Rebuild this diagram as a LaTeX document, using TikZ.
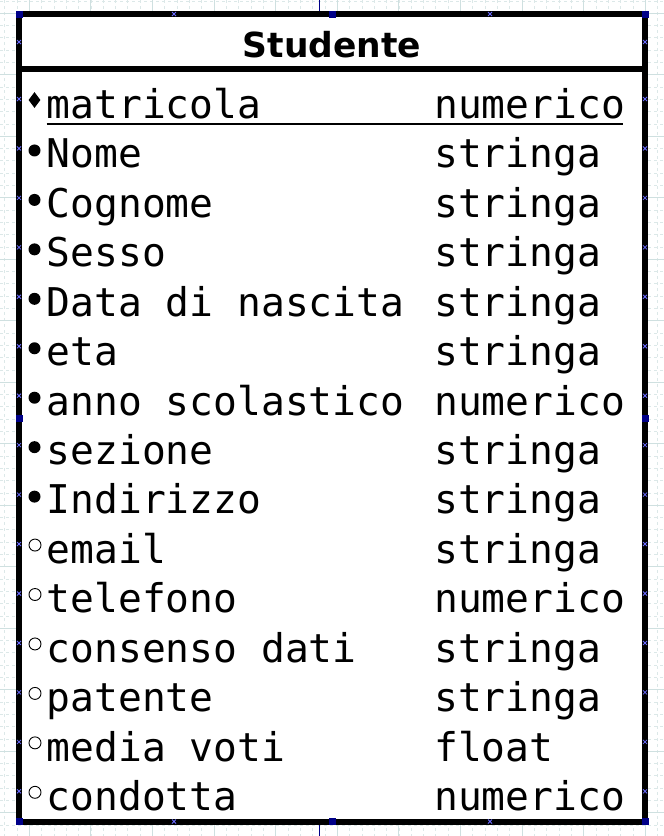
\documentclass[tikz,border=0pt]{standalone}
\usepackage{fontspec}
\usetikzlibrary{shapes.geometric}
\newfontfamily\attrmono{DejaVu Sans Mono}
\newfontfamily\headsans{DejaVu Sans}
\definecolor{gridminorc}{HTML}{DCE8E8}
\definecolor{gridmajorc}{HTML}{CFE0E0}
\definecolor{handleblue}{HTML}{000088}
\definecolor{markblue}{HTML}{6A6AFF}
\tikzset{
  gridminor/.style={draw=gridminorc, line width=0.8pt, dash pattern=on 3pt off 3pt},
  gridmajor/.style={draw=gridmajorc, line width=1pt},
  entity/.style={draw=black, line width=6pt, fill=white, inner sep=0pt,
    minimum width=626pt, minimum height=807.5pt},
  divider/.style={draw=black, line width=6pt},
  keyline/.style={draw=black, line width=2.5pt},
  hdr/.style={font={\headsans\bfseries\fontsize{34.5}{40}\selectfont}, anchor=base, inner sep=0pt},
  attr/.style={font={\attrmono\fontsize{39.6}{48}\selectfont}, anchor=base west, inner sep=0pt},
  keybullet/.style={diamond, fill=black, inner sep=0pt, minimum width=12pt, minimum height=16pt},
  reqbullet/.style={circle, fill=black, inner sep=0pt, minimum size=12pt},
  optbullet/.style={circle, draw=black, fill=white, line width=0.9pt, inner sep=0pt, minimum size=12pt},
  handle/.style={rectangle, fill=handleblue, inner sep=0pt, minimum size=7pt},
  guide/.style={draw=handleblue, line width=1.2pt},
  xmark/.style={draw=markblue, line width=0.8pt}
}
\newcommand{\cpmark}[2]{\draw[xmark] (#1-2,#2-2) -- (#1+2,#2+2) (#1-2,#2+2) -- (#1+2,#2-2);}
\begin{document}
\begin{tikzpicture}[x=1pt,y=-1pt]
  \useasboundingbox (0,0) rectangle (664,836);
  \fill[white] (0,0) rectangle (664,836);

  % background grid
  \foreach \k in {0,...,53} \draw[gridminor] ({4.66+12.32*\k},0) -- ++(0,836);
  \foreach \k in {0,...,67} \draw[gridminor] (0,{0.9+12.3*\k}) -- ++(664,0);
  \foreach \k in {0,...,10} \draw[gridmajor] ({29.3+61.6*\k},0) -- ++(0,836);
  \foreach \k in {0,...,13} \draw[gridmajor] (0,{13.2+61.5*\k}) -- ++(664,0);

  % vertical guide through the page centre
  \coordinate (gtop0) at (319.3,0);
  \coordinate (gtop1) at (319.3,11);
  \coordinate (gbot0) at (319.3,824.5);
  \coordinate (gbot1) at (319.3,836);
  \draw[guide] (gtop0) -- (gtop1);
  \draw[guide] (gbot0) -- (gbot1);

  % entity box
  \node[entity] (box) at (332,417.75) {};
  \coordinate (hl) at (0,68.7);
  \draw[divider] (box.west |- hl) -- (box.east |- hl);
  \node[hdr] (title) at (332,57) {Studente};

  % attributes: name and type
  \foreach \n/\t [count=\i from 0] in {
      matricola/numerico, Nome/stringa, Cognome/stringa, Sesso/stringa,
      Data di nascita/stringa, eta/stringa, anno scolastico/numerico,
      sezione/stringa, Indirizzo/stringa, email/stringa, telefono/numerico,
      consenso dati/stringa, patente/stringa, media voti/float, condotta/numerico} {
    \pgfmathsetmacro\cy{99+49.45*\i}
    \node[attr] (n\i) at (46.5,\cy+19.3) {\n};
    \node[attr] (t\i) at (434,\cy+19.3) {\t};
  }

  % primary key underline
  \coordinate (ul0) at (46.7,124);
  \coordinate (ul1) at (623.3,124);
  \draw[keyline] (ul0) -- (ul1);

  % bullets: key, mandatory, optional
  \node[keybullet] (b0) at (34.5,100) {};
  \foreach \i in {1,...,8} {
    \pgfmathsetmacro\cy{99+49.45*\i}
    \node[reqbullet] (b\i) at (34.5,\cy+2) {};
  }
  \foreach \i in {9,...,14} {
    \pgfmathsetmacro\cy{99+49.45*\i}
    \node[optbullet] (b\i) at (35,\cy+1) {};
  }

  % connection points
  \cpmark{174}{14}  \cpmark{490}{14}
  \cpmark{174}{821.5} \cpmark{490}{821.5}
  \cpmark{19}{42}  \cpmark{645}{42}
  \foreach \i in {0,...,14} {
    \pgfmathsetmacro\cy{99+49.45*\i}
    \cpmark{19}{\cy} \cpmark{645}{\cy}
  }

  % selection handles
  \foreach \hx/\hy [count=\j] in {19/14, 332/14, 645/14, 19/418, 645/418, 19/821.5, 332/821.5, 645/821.5}
    \node[handle] (h\j) at (\hx,\hy) {};
\end{tikzpicture}
\end{document}
